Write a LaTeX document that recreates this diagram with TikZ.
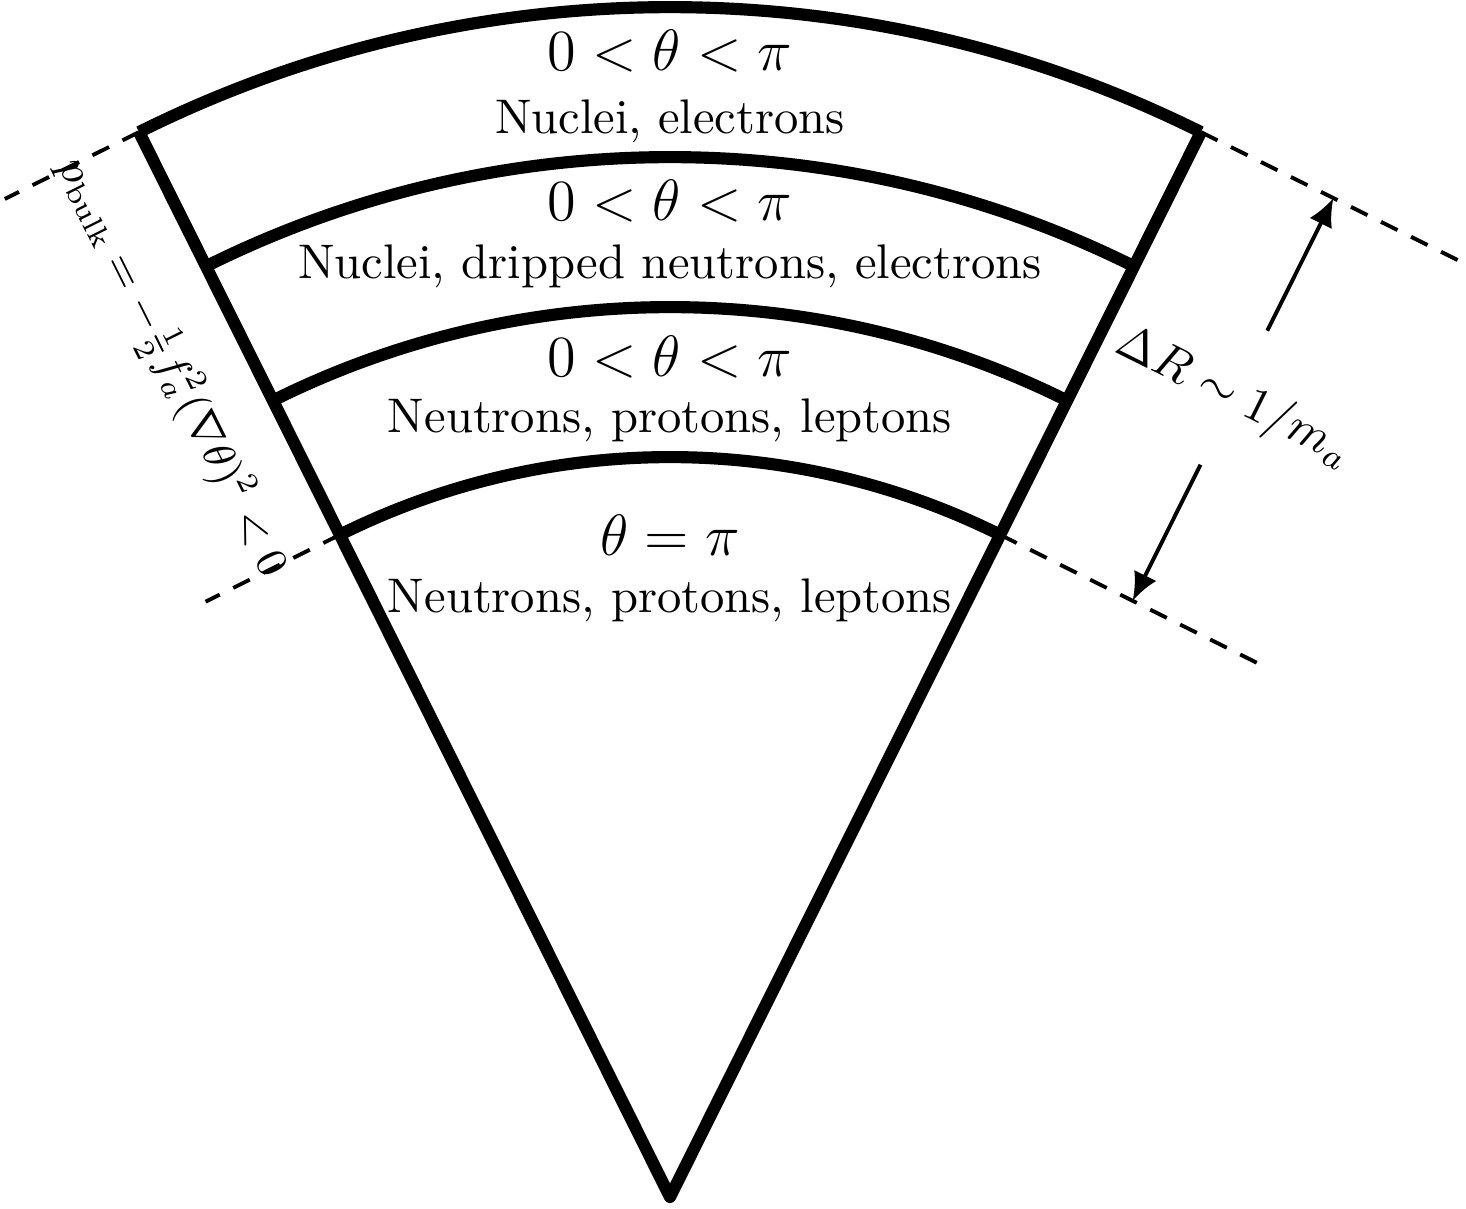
\documentclass[tikz,border=0pt]{standalone}
\usetikzlibrary{arrows.meta,calc}

\tikzset{
	wall/.style={line width=2.5pt},
	guide/.style={line width=0.8pt, dash pattern=on 3.8pt off 3.1pt},
	sizearrow/.style={line width=0.8pt, -{Latex[length=5.8pt,width=5.1pt]}}
}

\begin{document}
\begin{tikzpicture}[scale=0.7233]
	\useasboundingbox (-6.70,-0.11) rectangle (7.96,11.97);

	\coordinate (apex) at (0,0);
	\coordinate (lt) at (116.5:11.9);
	\coordinate (rt) at (63.5:11.9);
	\coordinate (lb) at (116.5:7.4);
	\coordinate (rb) at (63.5:7.4);

	\draw[wall, line join=round, line cap=square] (lt) -- (apex) -- (rt);
	\foreach \r in {11.9, 10.4, 8.9, 7.4}
	\draw[wall] (63.5:\r) arc (63.5:116.5:\r);

	\coordinate (ltend) at ($(lt)+(206.5:1.5)$);
	\coordinate (lbend) at ($(lb)+(206.5:1.5)$);
	\coordinate (rtend) at ($(rt)+(-26.5:2.9)$);
	\coordinate (rbend) at ($(rb)+(-26.5:2.9)$);
	\draw[guide] (lt) -- (ltend);
	\draw[guide] (lb) -- (lbend);
	\draw[guide] (rt) -- (rtend);
	\draw[guide] (rb) -- (rbend);

	\foreach \ym/\yt/\cond/\what [count=\i] in {
		11.27/10.64/{0<\theta<\pi}/{Nuclei, electrons},
		9.77/9.19/{0<\theta<\pi}/{Nuclei, dripped neutrons, electrons},
		8.21/7.65/{0<\theta<\pi}/{Neutrons, protons, leptons},
		6.42/5.85/{\theta=\pi}/{Neutrons, protons, leptons}}
	{
		\node[anchor=base, font=\large] (cond\i) at (0,\ym) {$\cond$};
		\node[anchor=base] (layer\i) at (0,\yt) {\what};
	}

	\coordinate (tipout) at ($(rt)+(-26.5:1.48)$);
	\coordinate (tipin) at ($(rb)+(-26.5:1.48)$);
	\node[rotate=-26.5, inner xsep=2pt, inner ysep=10.2pt] (dR) at ($(63.5:9.67)+(-26.5:1.48)$) {$\Delta R\sim 1/m_a$};
	\draw[sizearrow] (dR) -- (tipout);
	\draw[sizearrow] (dR) -- (tipin);

	\node[rotate=-63.5, font=\small] (pbulk) at ($(116.5:9.64)+(206.5:0.76)$) {$p_{\mathrm{bulk}}=-\frac{1}{2}f_a^2(\nabla\theta)^2<0$};
\end{tikzpicture}
\end{document}
